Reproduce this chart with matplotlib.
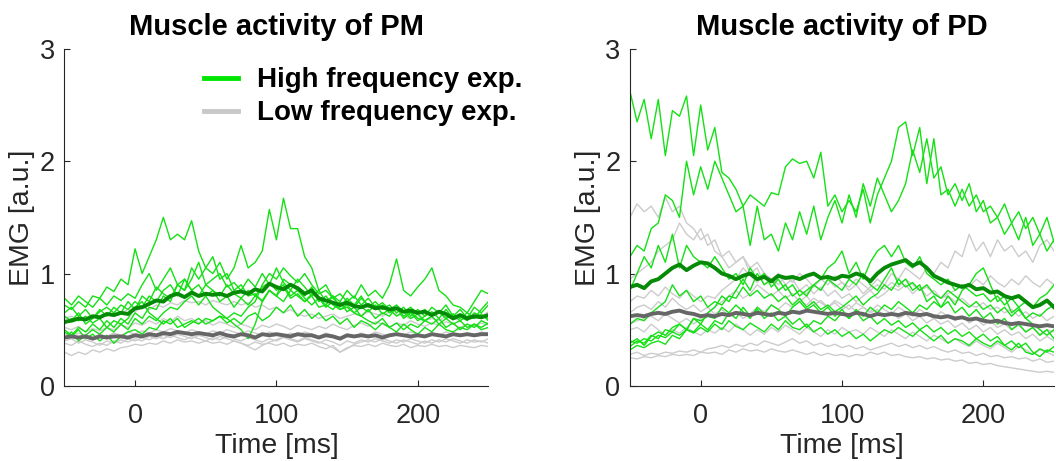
import numpy as np
import matplotlib
matplotlib.use("Agg")
import matplotlib.pyplot as plt
from matplotlib.lines import Line2D

plt.rcParams['font.family'] = ['Liberation Sans', 'DejaVu Sans']

# time axis, one sample every 5 ms
time_ms = np.arange(-50, 251, 5)

# ---- PM, high frequency experiment (single subjects) ----
pm_high_1 = [.72, .68, .75, .70, .80, .78, .88, .84, .95, .90, 1.22, 1.00, 1.15, 1.30, 1.50, 1.30, 1.35, 1.30, 1.47, 1.20,
             1.05, 1.15, .95, 1.00, .85, .90, .80, .82, .75, .85, .80, .88, .78, .82, .75, .80, .70, .72, .68, .75,
             .66, .70, .62, .68, .60, .65, .62, .70, .60, .65, .58, .62, .66, .60, .68, .60, .62, .58, .65, .62, .60]
pm_high_2 = [.50, .45, .52, .48, .55, .50, .58, .52, .60, .55, .65, .60, .70, .68, .80, .75, .90, .85, 1.05, .95,
             1.05, 1.00, 1.10, .95, 1.05, 1.25, 1.05, 1.10, 1.20, 1.57, 1.30, 1.67, 1.40, 1.40, 1.15, 1.05, .85, .90, .78, .82,
             .75, .80, .72, .78, .70, .74, .68, .72, .66, .70, .64, .68, .62, .66, .60, .64, .58, .62, .60, .64, .58]
pm_high_3 = [.65, .70, .62, .68, .60, .66, .70, .65, .72, .68, .75, .70, .80, .75, .85, .90, .80, .95, .85, .90,
             .80, .85, .75, .80, .70, .78, .72, .80, .76, .85, .80, .75, .85, .80, .75, .82, .78, .72, .80, .75,
             .85, .78, .90, .80, .85, .78, .90, 1.13, .85, .80, .88, .95, 1.05, .85, .80, .72, .70, .65, .75, .85, .82]
pm_high_4 = [.55, .60, .58, .62, .56, .60, .52, .58, .55, .60, .70, .75, .65, .60, .55, .60, .52, .55, .58, .55,
             .60, .58, .62, .60, .65, .62, .70, .75, .90, 1.00, .95, 1.05, .98, .92, 1.00, .90, .82, .85, .78, .72,
             .75, .70, .78, .72, .68, .72, .65, .70, .62, .66, .60, .58, .62, .55, .60, .55, .58, .52, .55, .50, .52]
pm_high_5 = [.42, .48, .40, .45, .50, .46, .52, .48, .55, .50, .60, .55, .62, .58, .65, .70, .68, .75, .80, .72,
             .80, .70, .65, .60, .55, .50, .42, .55, .75, .85, .80, .95, .90, .85, .80, .88, .75, .80, .72, .68,
             .70, .65, .62, .58, .55, .60, .52, .56, .50, .55, .52, .58, .55, .60, .52, .56, .50, .55, .52, .58, .55]
pm_high_6 = [.78, .72, .80, .75, .70, .78, .72, .80, .76, .82, .78, .90, 1.00, .85, .95, 1.05, .90, .85, .95, 1.10,
             .90, .95, 1.00, .88, .92, .85, .95, .88, 1.00, .90, 1.05, .92, .85, .95, .88, .80, .85, .75, .80, .70,
             .78, .72, .80, .70, .75, .68, .72, .65, .70, .62, .68, .62, .70, .65, .72, .62, .68, .60, .70, .65, .72]
pm_high_7 = [.48, .44, .50, .42, .46, .40, .45, .38, .44, .48, .50, .46, .52, .50, .58, .55, .60, .52, .56, .60,
             .55, .58, .62, .56, .60, .55, .62, .65, .58, .62, .70, .65, .72, .62, .68, .60, .65, .58, .62, .55,
             .60, .52, .58, .55, .50, .56, .52, .48, .55, .50, .46, .52, .48, .55, .50, .48, .52, .50, .55, .52, .56]
pm_high_8 = [.62, .58, .65, .55, .60, .68, .62, .70, .65, .75, .68, .80, .75, .88, .82, .78, .90, .95, .85, .80,
             .90, .85, .80, .90, .82, .78, .85, .80, .88, .92, .85, .90, .80, .85, .78, .72, .78, .70, .75, .68,
             .72, .65, .70, .66, .72, .64, .68, .62, .66, .60, .64, .58, .62, .66, .60, .64, .60, .65, .60, .68, .75]

# ---- PM, low frequency experiment (single subjects) ----
pm_low_1 = [.60, .62, .58, .60, .62, .60, .64, .62, .65, .68, .66, .70, .68, .72, .70, .74, .72, .76, .74, .75,
            .72, .76, .74, .72, .75, .72, .74, .70, .72, .68, .70, .65, .68, .64, .62, .64, .60, .62, .64, .60,
            .62, .64, .62, .66, .64, .62, .66, .64, .62, .60, .62, .58, .60, .58, .62, .60, .58, .62, .64, .62, .66]
pm_low_2 = [.30, .27, .30, .28, .32, .30, .33, .31, .34, .35, .37, .36, .38, .37, .40, .38, .41, .39, .40, .38,
            .40, .38, .39, .37, .40, .38, .36, .39, .37, .38, .36, .38, .35, .37, .36, .38, .35, .33, .36, .30,
            .34, .36, .35, .37, .35, .38, .36, .35, .37, .34, .36, .35, .37, .35, .36, .34, .36, .35, .34, .36, .35]
pm_low_3 = [.38, .36, .40, .37, .35, .38, .36, .40, .38, .42, .40, .43, .41, .44, .42, .45, .43, .41, .44, .42,
            .40, .43, .41, .44, .42, .40, .43, .41, .39, .42, .40, .43, .41, .39, .42, .40, .38, .41, .39, .36,
            .40, .38, .41, .39, .42, .40, .38, .41, .39, .42, .40, .38, .41, .39, .42, .40, .38, .41, .39, .40, .38]
pm_low_4 = [.46, .44, .47, .45, .43, .46, .44, .47, .45, .48, .46, .49, .47, .50, .48, .51, .49, .47, .50, .48,
            .46, .49, .47, .50, .48, .46, .49, .47, .45, .48, .46, .44, .47, .45, .48, .46, .44, .47, .45, .43,
            .46, .44, .47, .45, .48, .46, .44, .47, .45, .48, .46, .44, .47, .45, .48, .46, .44, .47, .45, .48, .46]
pm_low_5 = [.40, .42, .38, .41, .39, .36, .40, .38, .41, .39, .42, .40, .44, .42, .45, .43, .46, .44, .42, .45,
            .43, .41, .44, .42, .40, .38, .35, .32, .36, .39, .41, .44, .42, .40, .43, .41, .39, .37, .34, .30,
            .33, .37, .39, .41, .39, .42, .40, .38, .41, .39, .37, .40, .38, .41, .39, .42, .40, .38, .41, .39, .42]
pm_low_6 = [.52, .50, .53, .48, .51, .49, .52, .50, .54, .52, .56, .54, .58, .55, .60, .57, .62, .58, .60, .56,
            .58, .54, .57, .55, .52, .55, .53, .50, .54, .52, .55, .53, .50, .54, .52, .50, .53, .51, .55, .52,
            .50, .54, .56, .53, .57, .55, .52, .56, .54, .58, .55, .53, .56, .54, .57, .55, .52, .55, .53, .56, .54]

# ---- PM, group means ----
pm_high_mean = [.57, .58, .60, .59, .62, .61, .64, .63, .65, .64, .69, .70, .73, .76, .75, .80, .82, .79, .83, .80,
                .82, .81, .82, .80, .83, .84, .82, .86, .84, .91, .88, .86, .90, .87, .82, .85, .78, .76, .74, .72,
                .74, .71, .70, .72, .69, .70, .68, .69, .66, .67, .65, .66, .63, .66, .64, .60, .63, .60, .62, .61, .63]
pm_low_mean = [.43, .44, .43, .44, .42, .44, .43, .44, .44, .43, .45, .44, .46, .45, .47, .46, .48, .47, .46, .47,
               .46, .45, .47, .45, .44, .46, .45, .43, .46, .45, .46, .45, .44, .46, .45, .45, .43, .45, .44, .42,
               .45, .44, .45, .44, .45, .43, .45, .46, .45, .44, .45, .44, .46, .45, .44, .46, .45, .46, .45, .46, .46]

# ---- PD, high frequency experiment (single subjects) ----
pd_high_1 = [2.62, 2.35, 2.55, 2.20, 2.55, 2.05, 2.45, 2.40, 2.58, 2.05, 2.50, 2.10, 2.30, 1.90, 1.85, 1.75, 1.60, 1.70, 1.65, 1.60,
             1.72, 1.70, 1.95, 2.02, 1.98, 2.00, 1.85, 2.08, 1.60, 1.70, 1.55, 1.65, 1.55, 1.75, 1.45, 1.70, 1.85, 2.00, 2.30, 2.35,
             2.05, 2.30, 1.80, 2.20, 1.70, 1.75, 1.60, 1.75, 1.60, 1.70, 1.55, 1.60, 1.50, 1.62, 1.45, 1.55, 1.40, 1.50, 1.35, 1.50, 1.28]
pd_high_2 = [1.15, 1.25, 1.20, 1.40, 1.45, 1.70, 1.65, 1.50, 2.00, 1.70, 1.95, 1.75, 2.00, 1.85, 1.70, 1.55, 1.60, 1.25, 1.60, 1.30,
             1.35, 1.20, 1.45, 1.30, 1.55, 1.35, 1.60, 1.30, 1.50, 1.65, 1.45, 1.70, 1.50, 1.80, 1.60, 1.85, 1.70, 1.55, 1.65, 1.80,
             2.10, 1.90, 2.20, 1.85, 1.95, 1.70, 1.80, 1.65, 1.80, 1.55, 1.65, 1.45, 1.50, 1.35, 1.45, 1.30, 1.50, 1.25, 1.35, 1.20, 1.30]
pd_high_3 = [.85, 1.00, 1.15, 1.05, 1.25, 1.10, 1.35, 1.05, 1.25, 1.15, 1.10, 1.05, 1.15, 1.05, .95, 1.00, .90, 1.05, .95, 1.00,
             .88, .95, .85, .90, .80, .85, .90, .95, 1.05, 1.10, 1.20, 1.00, 1.10, .95, 1.10, 1.20, 1.25, 1.15, 1.25, 1.10,
             1.05, 1.15, 1.00, .95, .90, .95, .85, .90, .85, .80, .82, .75, .80, .72, .78, .70, .75, .70, .78, .82, .90]
pd_high_4 = [.35, .40, .38, .45, .42, .50, .48, .55, .50, .60, .55, .65, .70, .80, .75, .85, .95, .85, 1.00, .90,
             .95, .85, .90, .80, .85, .80, .90, .85, .95, .90, .85, .95, .90, 1.00, .90, .85, .95, 1.05, .90, .95,
             .85, .90, .75, .80, .70, .75, .65, .70, .62, .68, .60, .65, .55, .60, .50, .55, .48, .52, .45, .50, .42]
pd_high_5 = [.40, .38, .42, .40, .45, .43, .48, .45, .50, .48, .55, .50, .58, .55, .65, .60, .70, .62, .68, .60,
             .65, .58, .62, .55, .60, .52, .58, .55, .62, .58, .65, .60, .68, .62, .70, .65, .72, .68, .75, .70,
             .65, .72, .68, .75, .70, .80, .72, .85, .90, 1.00, 1.05, .90, .75, .80, .65, .70, .60, .55, .50, .45, .50]
pd_high_6 = [.32, .36, .34, .38, .40, .37, .45, .42, .50, .47, .52, .48, .55, .50, .58, .53, .50, .56, .52, .48,
             .55, .50, .58, .52, .50, .55, .48, .52, .46, .50, .44, .48, .42, .46, .40, .45, .50, .47, .52, .48,
             .44, .50, .45, .40, .45, .38, .42, .40, .36, .42, .38, .35, .40, .36, .32, .38, .30, .28, .33, .30, .35]
pd_high_7 = [.38, .42, .36, .44, .48, .45, .52, .55, .50, .60, .58, .62, .60, .70, .65, .72, .66, .60, .70, .64,
             .72, .68, .62, .70, .75, .68, .72, .65, .70, .62, .68, .60, .66, .58, .62, .55, .60, .54, .58, .52,
             .56, .50, .54, .48, .52, .46, .50, .44, .48, .42, .46, .40, .44, .36, .40, .34, .38, .30, .26, .32, .30]
pd_high_8 = [.55, .60, .58, .65, .70, .75, .90, .80, .85, .75, .80, .70, .75, .72, .80, .78, .88, .80, .85, .78,
             .82, .75, .80, .72, .78, .70, .75, .68, .72, .66, .70, .75, .80, .72, .78, .82, .90, .85, .95, .88,
             .92, .85, .90, .82, .78, .85, .80, .75, .70, .75, .68, .72, .65, .70, .62, .68, .60, .65, .62, .68, .72]

# ---- PD, low frequency experiment (single subjects) ----
pd_low_1 = [1.50, 1.62, 1.55, 1.60, 1.50, 1.68, 1.55, 1.60, 1.45, 1.40, 1.30, 1.35, 1.20, 1.15, 1.05, 1.10, 1.15, 1.00, 1.05, .90,
            .95, .85, .90, .80, .85, .82, .90, .85, .95, .88, .92, .85, .90, .82, .88, .95, .90, 1.00, .95, 1.05,
            1.00, .95, 1.05, 1.00, 1.10, 1.05, 1.20, 1.15, 1.35, 1.20, 1.28, 1.15, 1.30, 1.20, 1.25, 1.15, 1.20, 1.10, 1.25, 1.30, 1.20]
pd_low_2 = [.95, 1.00, 1.05, 1.10, 1.20, 1.25, 1.30, 1.45, 1.35, 1.30, 1.40, 1.25, 1.30, 1.15, 1.20, 1.10, 1.15, 1.05, 1.10, 1.00,
            .95, 1.00, .90, .95, .85, .90, .82, .88, .80, .85, .78, .82, .75, .80, .85, .78, .82, .88, .85, .90,
            .82, .88, .80, .85, .78, .82, .85, .90, .88, .95, .90, .98, .92, .88, .95, .90, .98, .92, .88, .95, .90]
pd_low_3 = [.75, .80, .78, .85, .80, .88, .82, .78, .85, .80, .75, .80, .78, .85, .90, .95, 1.05, .98, .92, 1.00,
            .95, .90, .98, .92, 1.00, .95, .88, .95, .90, .98, .92, .88, .95, .90, .85, .90, .86, .92, .88, .95,
            .90, .85, .88, .82, .78, .80, .75, .78, .72, .70, .74, .68, .70, .65, .68, .62, .66, .60, .64, .58, .62]
pd_low_4 = [.65, .70, .72, .68, .75, .70, .78, .72, .68, .72, .66, .70, .64, .68, .62, .66, .60, .64, .70, .66,
            .72, .68, .74, .70, .76, .72, .78, .74, .70, .76, .72, .68, .74, .70, .66, .72, .68, .64, .70, .66,
            .62, .68, .64, .60, .66, .62, .58, .62, .56, .60, .54, .58, .52, .55, .50, .54, .48, .52, .46, .50, .48]
pd_low_5 = [.50, .52, .48, .55, .50, .45, .50, .47, .52, .48, .45, .50, .47, .52, .48, .55, .50, .45, .50, .46,
            .52, .48, .54, .50, .46, .52, .48, .44, .50, .46, .52, .48, .50, .46, .52, .48, .44, .50, .46, .42,
            .48, .44, .40, .45, .42, .38, .42, .38, .35, .40, .36, .33, .38, .34, .30, .35, .32, .28, .32, .30, .27]
pd_low_6 = [.25, .24, .26, .25, .27, .26, .28, .27, .28, .27, .30, .29, .30, .28, .32, .30, .33, .31, .32, .30,
            .33, .31, .30, .32, .30, .28, .30, .27, .29, .27, .28, .26, .28, .27, .30, .28, .30, .27, .28, .26,
            .25, .26, .24, .25, .23, .24, .22, .23, .20, .21, .19, .20, .18, .17, .16, .15, .14, .13, .12, .13, .12]
pd_low_7 = [.28, .30, .27, .29, .28, .30, .29, .31, .30, .32, .30, .33, .34, .36, .34, .37, .35, .38, .36, .40,
            .38, .36, .39, .42, .38, .40, .36, .38, .35, .37, .34, .36, .33, .35, .32, .34, .36, .38, .35, .37,
            .34, .36, .33, .35, .32, .30, .32, .29, .30, .27, .29, .26, .27, .25, .26, .24, .25, .22, .24, .21, .22]
pd_low_8 = [.55, .58, .60, .62, .58, .64, .60, .56, .60, .55, .60, .65, .70, .75, .80, .85, .78, .82, .90, .85,
            .80, .85, .78, .82, .75, .80, .72, .76, .70, .74, .68, .72, .66, .70, .65, .68, .62, .66, .60, .64,
            .58, .62, .56, .60, .55, .58, .52, .56, .50, .54, .48, .52, .46, .50, .45, .48, .42, .46, .40, .44, .40]

# ---- PD, group means ----
pd_high_mean = [.88, .90, .87, .93, .95, 1.00, 1.05, 1.08, 1.03, 1.07, 1.10, 1.09, 1.05, 1.00, .98, .95, .98, 1.00, .95, .97,
                .93, .98, .96, .97, .95, .98, 1.00, .96, .97, .95, .98, .97, 1.00, .98, .93, 1.00, 1.05, 1.08, 1.10, 1.12,
                1.07, 1.10, 1.05, .98, .95, .92, .90, .88, .90, .86, .87, .83, .84, .80, .78, .80, .75, .70, .72, .76, .70]
pd_low_mean = [.62, .63, .62, .64, .65, .64, .66, .67, .65, .64, .62, .63, .62, .64, .63, .65, .64, .63, .65, .64,
               .63, .65, .64, .66, .65, .67, .66, .65, .64, .65, .64, .63, .65, .64, .62, .64, .63, .64, .63, .65,
               .64, .63, .64, .62, .61, .62, .60, .61, .59, .60, .58, .57, .58, .56, .55, .56, .55, .54, .53, .54, .53]

panels = [
    ("Muscle activity of PM",
     [pm_high_1, pm_high_2, pm_high_3, pm_high_4, pm_high_5, pm_high_6, pm_high_7, pm_high_8],
     [pm_low_1, pm_low_2, pm_low_3, pm_low_4, pm_low_5, pm_low_6],
     pm_high_mean, pm_low_mean),
    ("Muscle activity of PD",
     [pd_high_1, pd_high_2, pd_high_3, pd_high_4, pd_high_5, pd_high_6, pd_high_7, pd_high_8],
     [pd_low_1, pd_low_2, pd_low_3, pd_low_4, pd_low_5, pd_low_6, pd_low_7, pd_low_8],
     pd_high_mean, pd_low_mean),
]

green = "#14e014"
dark_green = "#058a05"
light_gray = "#cccccc"
dark_gray = "#666666"
axis_col = "#262626"

fig = plt.figure(figsize=(10.56, 4.61), dpi=100)
ax_pos = [[0.061, 0.163, 0.4015, 0.731], [0.5966, 0.163, 0.4015, 0.731]]

for pos, (title, highs, lows, hmean, lmean) in zip(ax_pos, panels):
    ax = fig.add_axes(pos)
    for tr in lows:
        ax.plot(time_ms, tr, color=light_gray, lw=1.0)
    for tr in highs:
        ax.plot(time_ms, tr, color=green, lw=1.0)
    ax.plot(time_ms, lmean, color=dark_gray, lw=2.8)
    ax.plot(time_ms, hmean, color=dark_green, lw=2.8)

    ax.set_xlim(-50, 250)
    ax.set_ylim(0, 3)
    ax.set_xticks([0, 100, 200])
    ax.set_yticks([0, 1, 2, 3])
    for s in ["top", "right"]:
        ax.spines[s].set_visible(False)
    for s in ["left", "bottom"]:
        ax.spines[s].set_color(axis_col)
        ax.spines[s].set_linewidth(0.8)
    ax.tick_params(direction="in", length=4, width=0.8, colors=axis_col, labelsize=19.5)
    ax.tick_params(axis="x", pad=12)
    ax.tick_params(axis="y", pad=7)
    ax.set_xlabel("Time [ms]", fontsize=20.5, color=axis_col, labelpad=3.5)
    ax.set_ylabel("EMG [a.u.]", fontsize=20.5, color=axis_col, labelpad=3)
    ax.set_title(title, fontsize=21, fontweight="bold", pad=10)

    if title.endswith("PM"):
        handles = [Line2D([], [], color="#00e600", lw=3.5),
                   Line2D([], [], color="#c8c8c8", lw=3.5)]
        ax.legend(handles, ["High frequency exp.", "Low frequency exp."],
                  loc="upper left", bbox_to_anchor=(0.33, 0.945), frameon=False,
                  prop={"size": 20, "weight": "bold"}, handlelength=1.22,
                  handletextpad=0.68, labelspacing=0.25, borderpad=0, borderaxespad=0)

fig.savefig("out.png", dpi=100)
